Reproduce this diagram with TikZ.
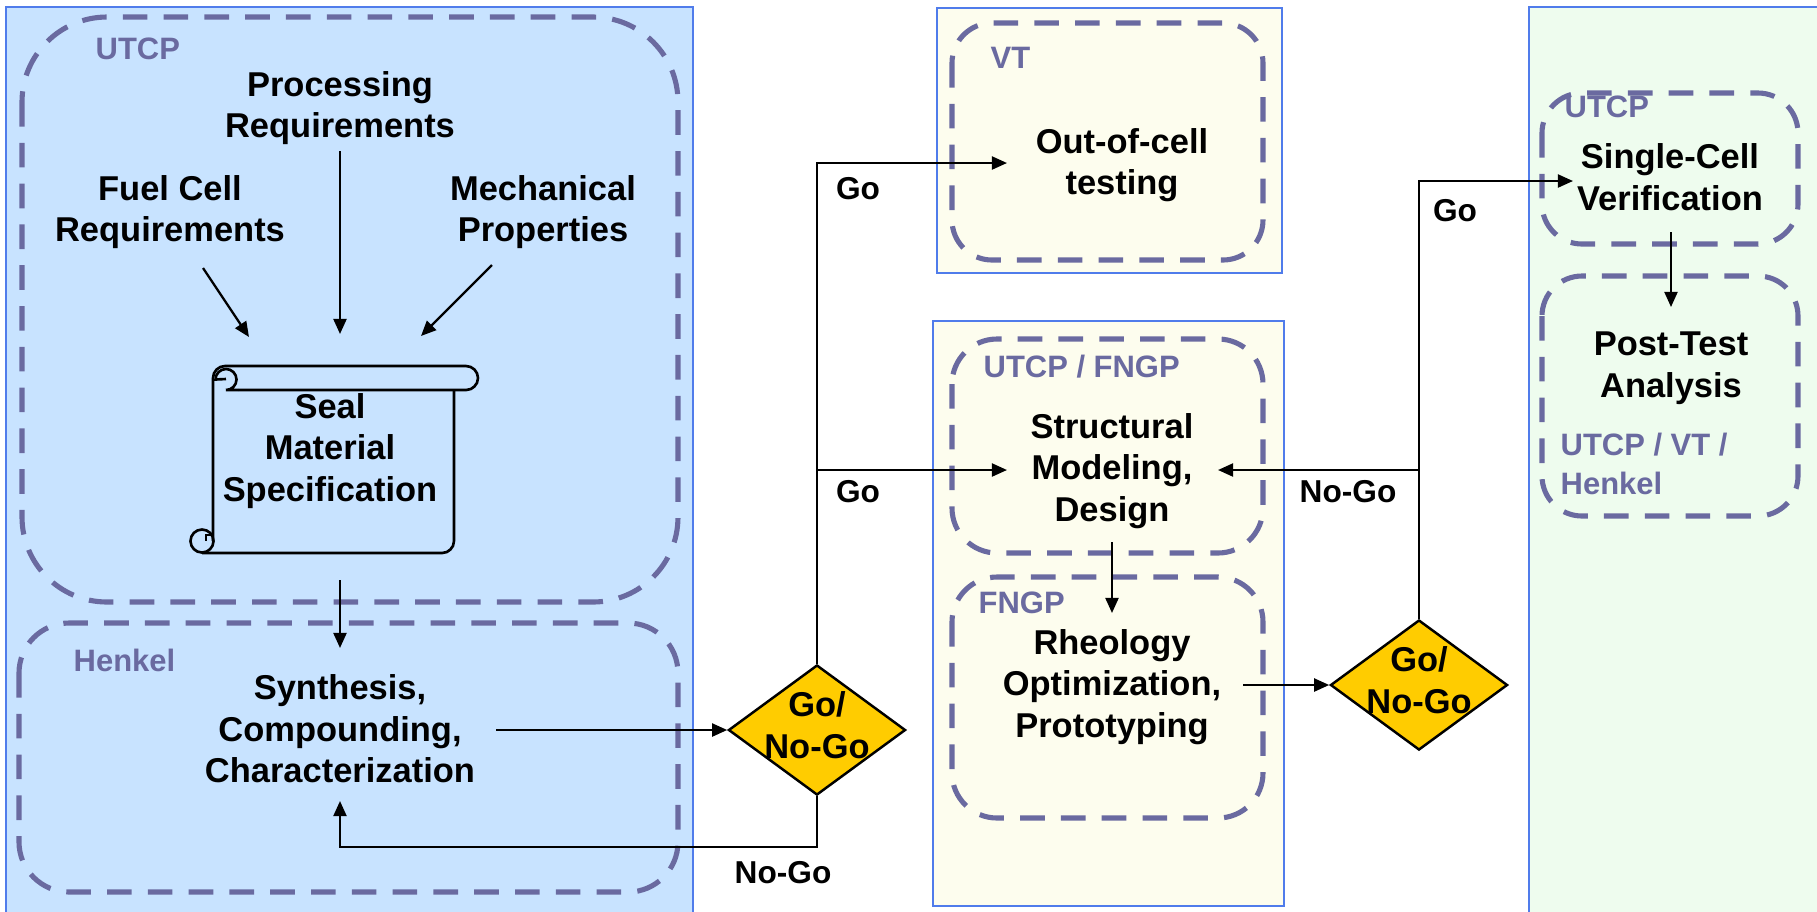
\documentclass[tikz,border=0pt]{standalone}
\usepackage{fontspec}
\setmainfont{Liberation Sans}
\usepackage{xcolor}
\usetikzlibrary{positioning,arrows.meta,shapes.geometric,calc}

\definecolor{leadblue}{RGB}{200,227,255}
\definecolor{partnerivory}{RGB}{253,253,238}
\definecolor{verifygreen}{RGB}{238,252,238}
\definecolor{columnedge}{RGB}{80,124,235}
\definecolor{teamcol}{RGB}{106,106,160}
\definecolor{gonogo}{RGB}{255,204,0}

\begin{document}
\begin{tikzpicture}[x=0.01cm, y=-0.01cm,
  column/.style={draw=columnedge, line width=0.7pt},
  team/.style={draw=teamcol, line width=1.45pt, dash pattern=on 7pt off 4.6pt},
  teamlabel/.style={font=\fontsize{8.8}{11}\selectfont\bfseries, text=teamcol, anchor=west, inner sep=0pt, align=left},
  task/.style={font=\fontsize{9.8}{11.8}\selectfont\bfseries, align=center, inner sep=0pt},
  golabel/.style={font=\fontsize{9}{11}\selectfont\bfseries, inner sep=0pt},
  decision/.style={diamond, draw, line width=0.7pt, fill=gonogo, minimum width=1.77cm, minimum height=1.3cm, inner sep=0pt},
  arr/.style={line width=0.65pt, -{Triangle[length=4.3pt, width=3.7pt]}},
  scrollline/.style={line width=0.75pt}
]
  % canvas: one unit = one pixel of the 1817 x 911 layout, y pointing down
  \useasboundingbox (0,0) rectangle (1817,911);
  \fill[white] (0,0) rectangle (1817,911);

  % column panels
  \draw[column, fill=leadblue] (6,7) rectangle (693,930);
  \draw[column, fill=partnerivory] (937,8) rectangle (1282,273);
  \draw[column, fill=partnerivory] (933,321) rectangle (1284,906);
  \draw[column, fill=verifygreen] (1529,7) rectangle (1830,930);

  % team groups (dashed)
  \draw[team, rounded corners=8.5mm] (22,17) rectangle (678,602);
  \draw[team, rounded corners=5mm] (19,623) rectangle (678,892);
  \draw[team, rounded corners=4mm] (952,23) rectangle (1263,260);
  \draw[team, rounded corners=4.5mm] (952,339) rectangle (1263,553);
  \draw[team, rounded corners=4.5mm] (952,577) rectangle (1263,818);
  \draw[team, rounded corners=4mm] (1542,93) rectangle (1798,244);
  \draw[team, rounded corners=4mm] (1542,276) rectangle (1798,516);

  \node[teamlabel] (utcpA) at (95,49) {UTCP};
  \node[teamlabel] (henkel) at (73,660) {Henkel};
  \node[teamlabel] (vt) at (990,58) {VT};
  \node[teamlabel] (utcpfngp) at (983,367) {UTCP / FNGP};
  \node[teamlabel] (fngp) at (978,603) {FNGP};
  \node[teamlabel] (utcpB) at (1564,107) {UTCP};
  \node[teamlabel] (utcpvth) at (1560,464) {UTCP / VT /\\Henkel};

  % left column: requirements -> specification -> synthesis
  \node[task] (proc) at (340,108) {Processing\\Requirements};
  \node[task] (fuel) at (170,212) {Fuel Cell\\Requirements};
  \node[task] (mech) at (543,212) {Mechanical\\Properties};

  % specification scroll
  \draw[scrollline, rounded corners=1.2mm] (238,390) -- (478,390) -- (478,366) -- (213,366) -- (213,541);
  \draw[scrollline] (238,390) -- (226,390) arc[start angle=-90, end angle=180, radius=1.05mm] -- (226,379);
  \draw[scrollline, rounded corners=1.2mm] (202,553) -- (454,553) -- (454,390);
  \draw[scrollline] (202,541) circle[radius=1.15mm];
  \draw[scrollline] (213,535) -- (206,535) -- (206,541);
  \node[task] (spec) at (330,451) {Seal\\Material\\Specification};

  \node[task] (synth) at (340,729) {Synthesis,\\Compounding,\\Characterization};

  \coordinate (fuelOut) at (203,268);
  \coordinate (fuelIn) at (249,337);
  \coordinate (procOut) at (340,151);
  \coordinate (procIn) at (340,334);
  \coordinate (mechOut) at (492,265);
  \coordinate (mechIn) at (421,336);
  \draw[arr] (fuelOut) -- (fuelIn);
  \draw[arr] (procOut) -- (procIn);
  \draw[arr] (mechOut) -- (mechIn);

  \coordinate (specOut) at (340,580);
  \coordinate (synthIn) at (340,648);
  \draw[arr] (specOut) -- (synthIn);

  % first decision
  \node[decision] (dec1) at (817,730) {};
  \node[task] (dec1txt) at (817,725) {Go/\\No-Go};
  \coordinate (synthOut) at (496,730);
  \draw[arr] (synthOut) -- (dec1.west);

  \coordinate (loopY) at (0,847);
  \coordinate (synthBack) at (340,801);
  \draw[arr] (dec1.south) -- (dec1.south |- loopY) -| (synthBack);
  \node[golabel] (nogoA) at (783,873) {No-Go};

  \coordinate (oocIn) at (1007,163);
  \coordinate (smdIn) at (1007,470);
  \draw[arr] (dec1.north) |- (oocIn);
  \draw[arr] (dec1.north |- smdIn) -- (smdIn);
  \node[golabel] (goA) at (858,189) {Go};
  \node[golabel] (goB) at (858,492) {Go};

  % middle column
  \node[task] (ooc) at (1122,165) {Out-of-cell\\testing};
  \node[task] (smd) at (1112,471) {Structural\\Modeling,\\Design};
  \node[task] (rheo) at (1112,687) {Rheology\\Optimization,\\Prototyping};

  \coordinate (smdOut) at (1112,542);
  \coordinate (rheoIn) at (1112,613);
  \draw[arr] (smdOut) -- (rheoIn);

  % second decision
  \node[decision] (dec2) at (1419,685) {};
  \node[task] (dec2txt) at (1419,680) {Go/\\No-Go};
  \coordinate (rheoOut) at (1243,685);
  \draw[arr] (rheoOut) -- (dec2.west);

  \coordinate (scvIn) at (1573,181);
  \coordinate (smdBack) at (1218,470);
  \draw[arr] (dec2.north) |- (scvIn);
  \draw[arr] (dec2.north |- smdBack) -- (smdBack);
  \node[golabel] (goC) at (1455,211) {Go};
  \node[golabel] (nogoB) at (1348,492) {No-Go};

  % right column
  \node[task] (scv) at (1670,177) {Single-Cell\\Verification};
  \node[task] (pta) at (1671,368) {Post-Test\\Analysis};
  \coordinate (scvOut) at (1671,232);
  \coordinate (ptaIn) at (1671,307);
  \draw[arr] (scvOut) -- (ptaIn);
\end{tikzpicture}
\end{document}
